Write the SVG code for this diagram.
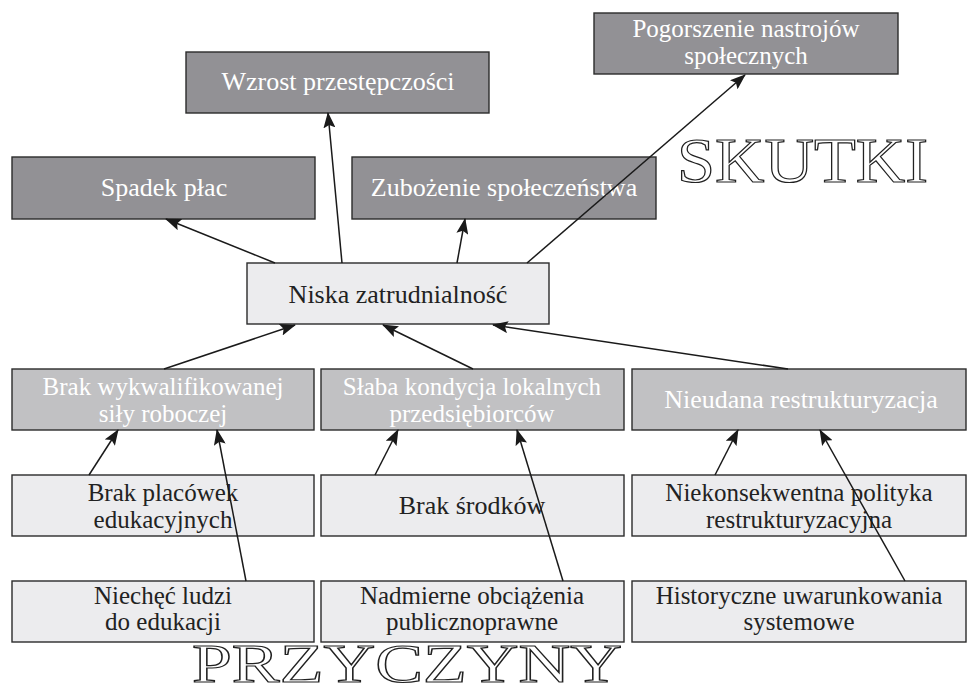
<svg xmlns="http://www.w3.org/2000/svg" width="967" height="695" viewBox="0 0 967 695">
<style>
  .box { stroke: #2b2b2b; stroke-width: 1.4; }
  .dark { fill: #929195; }
  .mid { fill: #c1c1c3; }
  .light { fill: #ececee; }
  .t { font-family: "Liberation Serif", "DejaVu Serif", serif; font-size: 26px; text-anchor: middle; }
  .t2 { font-size: 25px; }
  .tw { fill: #ffffff; }
  .tb { fill: #222222; }
  .big { font-family: "Liberation Serif", "DejaVu Serif", serif; font-size: 64px; fill: #ffffff; stroke: #222222; stroke-width: 1.2; }
  .conn line { stroke: #1a1a1a; stroke-width: 1.5; marker-end: url(#arrow); }
</style>
<defs>
  <marker id="arrow" markerUnits="userSpaceOnUse" markerWidth="16" markerHeight="12" refX="15" refY="6" orient="auto">
    <path d="M0,0 L16,6 L0,12 L3,6 Z" fill="#1a1a1a"/>
  </marker>
</defs>
<rect width="967" height="695" fill="#ffffff"/>

<g id="pogorszenie">
  <rect class="box dark" x="594" y="13" width="304" height="61"/>
  <text class="t t2 tw" x="746" y="37">Pogorszenie nastrojów</text>
  <text class="t t2 tw" x="746" y="64">społecznych</text>
</g>
<g id="wzrost">
  <rect class="box dark" x="186" y="52" width="303" height="61"/>
  <text class="t tw" x="338" y="90">Wzrost przestępczości</text>
</g>
<g id="spadek">
  <rect class="box dark" x="12" y="157" width="303" height="62"/>
  <text class="t tw" x="164" y="196">Spadek płac</text>
</g>
<g id="zubozenie">
  <rect class="box dark" x="352" y="157" width="304" height="62"/>
  <text class="t tw" x="504" y="196">Zubożenie społeczeństwa</text>
</g>
<g id="skutki">
  <text class="big" x="677" y="182" textLength="251" lengthAdjust="spacingAndGlyphs">SKUTKI</text>
</g>
<g id="niska">
  <rect class="box light" x="247" y="263" width="302" height="61"/>
  <text class="t tb" x="398" y="303">Niska zatrudnialność</text>
</g>
<g id="brak-wykw">
  <rect class="box mid" x="12" y="369" width="302" height="61"/>
  <text class="t t2 tw" x="163" y="395">Brak wykwalifikowanej</text>
  <text class="t t2 tw" x="163" y="422">siły roboczej</text>
</g>
<g id="slaba">
  <rect class="box mid" x="321" y="369" width="303" height="61"/>
  <text class="t t2 tw" x="472" y="395">Słaba kondycja lokalnych</text>
  <text class="t t2 tw" x="472" y="422">przedsiębiorców</text>
</g>
<g id="nieudana">
  <rect class="box mid" x="632" y="369" width="334" height="61"/>
  <text class="t tw" x="801" y="408">Nieudana restrukturyzacja</text>
</g>
<g id="brak-placowek">
  <rect class="box light" x="12" y="475" width="302" height="61"/>
  <text class="t t2 tb" x="163" y="501">Brak placówek</text>
  <text class="t t2 tb" x="163" y="528">edukacyjnych</text>
</g>
<g id="brak-srodkow">
  <rect class="box light" x="321" y="475" width="303" height="61"/>
  <text class="t tb" x="472" y="514">Brak środków</text>
</g>
<g id="niekonsekwentna">
  <rect class="box light" x="632" y="475" width="334" height="61"/>
  <text class="t t2 tb" x="799" y="501">Niekonsekwentna polityka</text>
  <text class="t t2 tb" x="799" y="528">restrukturyzacyjna</text>
</g>
<g id="niechec">
  <rect class="box light" x="12" y="581" width="302" height="61"/>
  <text class="t t2 tb" x="163" y="604">Niechęć ludzi</text>
  <text class="t t2 tb" x="163" y="630">do edukacji</text>
</g>
<g id="nadmierne">
  <rect class="box light" x="321" y="581" width="303" height="61"/>
  <text class="t t2 tb" x="472" y="604">Nadmierne obciążenia</text>
  <text class="t t2 tb" x="472" y="630">publicznoprawne</text>
</g>
<g id="historyczne">
  <rect class="box light" x="632" y="581" width="334" height="61"/>
  <text class="t t2 tb" x="799" y="604">Historyczne uwarunkowania</text>
  <text class="t t2 tb" x="799" y="630">systemowe</text>
</g>
<g id="przyczyny">
  <text class="big" x="192" y="682" style="font-size:54px" textLength="430" lengthAdjust="spacingAndGlyphs">PRZYCZYNY</text>
</g>

<g id="connectors" class="conn">
  <line x1="275" y1="263" x2="166" y2="219"/>
  <line x1="342" y1="263" x2="328" y2="113"/>
  <line x1="457" y1="263" x2="465" y2="219"/>
  <line x1="527" y1="263" x2="745" y2="75"/>
  <line x1="164" y1="369" x2="295" y2="325"/>
  <line x1="473" y1="369" x2="383" y2="325"/>
  <line x1="788" y1="369" x2="493" y2="325"/>
  <line x1="89" y1="475" x2="118" y2="430"/>
  <line x1="246" y1="581" x2="217" y2="430"/>
  <line x1="375" y1="475" x2="398" y2="430"/>
  <line x1="563" y1="581" x2="517" y2="430"/>
  <line x1="715" y1="475" x2="738" y2="430"/>
  <line x1="905" y1="581" x2="820" y2="430"/>
</g>
</svg>
